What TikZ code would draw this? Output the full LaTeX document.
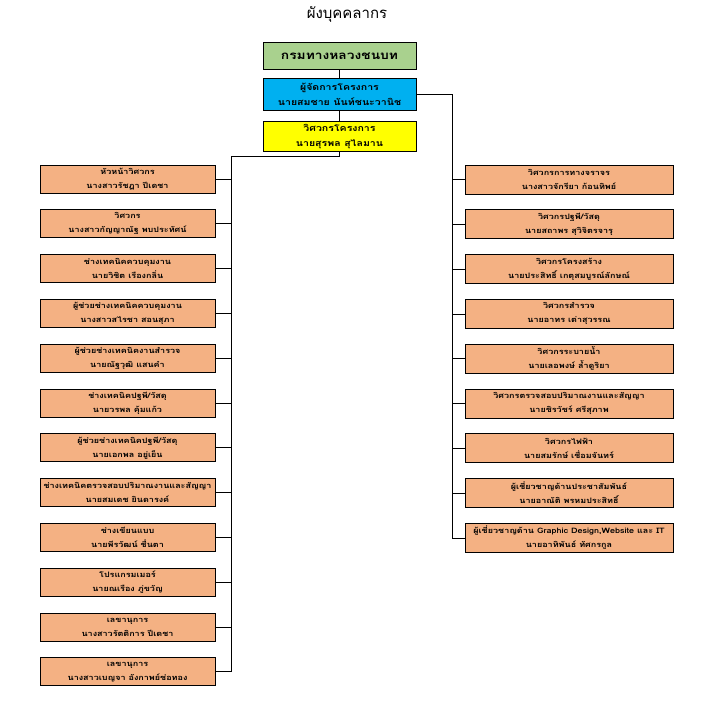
\documentclass[tikz,border=0pt]{standalone}
\usepackage{fontspec}
\setmainfont[Script=Thai]{Loma}
\newfontfamily\wthai[Script=Thai,FakeStretch=1.2]{Loma}
\definecolor{gbox}{HTML}{A9D18E}
\definecolor{bbox}{HTML}{00B0F0}
\definecolor{ybox}{HTML}{FFFF00}
\definecolor{sbox}{HTML}{F4B183}
\begin{document}
\begin{tikzpicture}[x=1pt,y=-1pt,
  topbox/.style={draw=black, line width=0.7pt, minimum width=153pt, align=center, inner sep=0pt, font=\wthai\bfseries\fontsize{8.8}{15}\selectfont},
  lbox/.style={draw=black, line width=0.7pt, fill=sbox, minimum width=175pt, minimum height=28pt, align=center, inner sep=0pt, font=\wthai\bfseries\fontsize{7.5}{14}\selectfont},
  rbox/.style={draw=black, line width=0.7pt, fill=sbox, minimum width=208pt, minimum height=29pt, align=center, inner sep=0pt, font=\wthai\bfseries\fontsize{7.5}{14}\selectfont},
  conn/.style={draw=black, line width=0.7pt}]
\useasboundingbox (0,0) rectangle (703,722);
\node (title) at (347,14) {\fontsize{15}{18}\selectfont ผังบุคคลากร};
\node[topbox, fill=gbox, minimum height=27pt, font=\wthai\bfseries\fontsize{11.5}{13}\selectfont] (dept) at (339.5,56) {กรมทางหลวงชนบท};
\node[topbox, fill=bbox, minimum height=32pt] (pm) at (339.5,94) {ผู้จัดการโครงการ\\นายสมชาย นันท์ชนะวานิช};
\node[topbox, fill=ybox, minimum height=30pt] (pe) at (339.5,136.5) {วิศวกรโครงการ\\นายสุรพล สุไลมาน};
\draw[conn] (dept) -- (pm);
\draw[conn] (pm) -- (pe);
% left column
\coordinate (lt) at (231,156);
\coordinate (lb) at (231,671.8);
\coordinate (pej) at (339.5,156);
\draw[conn] (pe.south) -- (pej) -- (lt) -- (lb);
\foreach \i/\txt in {
 0/{หัวหน้าวิศวกร\\นางสาวรัชฎา ปีเดชา},
 1/{วิศวกร\\นางสาวกัญญาณัฐ พบประทัศน์},
 2/{ช่างเทคนิคควบคุมงาน\\นายวิชิต เรืองกลิ่น},
 3/{ผู้ช่วยช่างเทคนิคควบคุมงาน\\นางสาวสไรชา สอนสุภา},
 4/{ผู้ช่วยช่างเทคนิคงานสำรวจ\\นายณัฐวุฒิ แสนคำ},
 5/{ช่างเทคนิคปฐพี/วัสดุ\\นายวรพล คุ้มแก้ว},
 6/{ผู้ช่วยช่างเทคนิคปฐพี/วัสดุ\\นายเอกพล อยู่เย็น},
 7/{ช่างเทคนิคตรวจสอบปริมาณงานและสัญญา\\นายสมเดช ยินดารงค์},
 8/{ช่างเขียนแบบ\\นายพีรวัฒน์ ชื่นตา},
 9/{โปรแกรมเมอร์\\นายณเรือง ภู่ขวัญ},
 10/{เลขานุการ\\นางสาวรัตติการ ปีเดชา},
 11/{เลขานุการ\\นางสาวเบญจา อังกาพย์ช่อทอง}} {
  \node[lbox] (L\i) at (127.5,{179+44.8*\i}) {\txt};
  \coordinate (LJ\i) at (231,{179+44.8*\i});
  \draw[conn] (L\i.east) -- (LJ\i);
}
% right column
\coordinate (rt) at (452,94);
\coordinate (rb) at (452,537.9);
\draw[conn] (pm.east) -- (rt) -- (rb);
\foreach \i/\txt in {
 0/{วิศวกรการทางจราจร\\นางสาวจักรียา ก้อนทิพย์},
 1/{วิศวกรปฐพี/วัสดุ\\นายสถาพร สุวิจิตรจารุ},
 2/{วิศวกรโครงสร้าง\\นายประสิทธิ์ เกตุสมบูรณ์ลักษณ์},
 3/{วิศวกรสำรวจ\\นายอาทร เต่าสุวรรณ},
 4/{วิศวกรระบายน้ำ\\นายเลอพงษ์ ล้ำดูริยา},
 5/{วิศวกรตรวจสอบปริมาณงานและสัญญา\\นายชิรวัชร์ ศรีสุภาพ},
 6/{วิศวกรไฟฟ้า\\นายสมรักษ์ เชื่อมจันทร์},
 7/{ผู้เชี่ยวชาญด้านประชาสัมพันธ์\\นายอาณัติ พรหมประสิทธิ์},
 8/{ผู้เชี่ยวชาญด้าน Graphic Design,Website และ IT\\นายอาทิพันธ์ ทัศกรกูล}} {
  \node[rbox] (R\i) at (569,{179.5+44.8*\i}) {\txt};
  \coordinate (RJ\i) at (452,{179.5+44.8*\i});
  \draw[conn] (RJ\i) -- (R\i.west);
}
\end{tikzpicture}
\end{document}
